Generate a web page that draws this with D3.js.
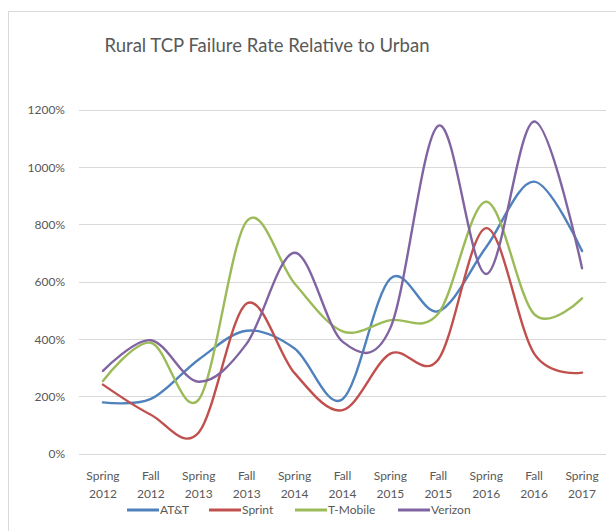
<!doctype html>
<html lang="en">
	<head>
		<meta charset="UTF-8">
		<title>Rural TCP Failure Rate</title>
		<style>
		body { margin: 0; background: #fff; }
		text { font-family: Lato, "Open Sans", sans-serif; fill: #595959; }
		.grid line { stroke: #d9d9d9; stroke-width: 1px; shape-rendering: crispEdges; }
		.line { fill: none; stroke-width: 2.4px; stroke-linecap: round; }
		</style>
	</head>
	<body>
		<script src="https://d3js.org/d3.v7.min.js"></script>
		<script>
			var categories = ["Spring 2012", "Fall 2012", "Spring 2013", "Fall 2013", "Spring 2014", "Fall 2014",
				"Spring 2015", "Fall 2015", "Spring 2016", "Fall 2016", "Spring 2017"];
			var yTicks = [0, 200, 400, 600, 800, 1000, 1200];

			var att     = [180, 192, 330, 430, 368, 191, 612, 498, 722, 950, 708];
			var sprint  = [242, 137, 75, 525, 282, 153, 350, 330, 788, 350, 284];
			var tmobile = [255, 388, 190, 812, 595, 428, 467, 490, 880, 488, 543];
			var verizon = [290, 397, 252, 385, 702, 392, 440, 1145, 628, 1160, 648];

			var seriesNames = ["AT&T", "Sprint", "T-Mobile", "Verizon"];
			var seriesColors = ["#4f81bd", "#c0504d", "#9bbb59", "#8064a2"];
			var seriesValues = [att, sprint, tmobile, verizon];

			var width = 616,
				height = 531,
				plotLeft = 79,
				plotRight = 606,
				plotTop = 110,
				plotBottom = 454;

			var svg = d3.select("body").append("svg")
				.attr("width", width)
				.attr("height", height);

			// chart frame, runs off the right and bottom edges
			svg.append("rect")
				.attr("x", 8.5)
				.attr("y", 11.5)
				.attr("width", 640)
				.attr("height", 560)
				.attr("fill", "none")
				.attr("stroke", "#d9d9d9");

			svg.append("text")
				.attr("x", 267)
				.attr("y", 52)
				.attr("text-anchor", "middle")
				.attr("font-size", 18.5)
				.text("Rural TCP Failure Rate Relative to Urban");

			var x = d3.scaleBand()
				.domain(categories)
				.range([plotLeft, plotRight]);

			var y = d3.scaleLinear()
				.domain([0, 1200])
				.range([plotBottom, plotTop]);

			var cx = function(c){ return x(c) + x.bandwidth() / 2; };

			// gridlines
			svg.append("g")
				.attr("class", "grid")
				.selectAll("line")
				.data(yTicks)
				.enter()
				.append("line")
				.attr("x1", plotLeft)
				.attr("x2", plotRight)
				.attr("y1", function(d){ return y(d); })
				.attr("y2", function(d){ return y(d); });

			// y labels
			svg.selectAll("text.ylab")
				.data(yTicks)
				.enter()
				.append("text")
				.attr("class", "ylab")
				.attr("x", 65)
				.attr("y", function(d){ return y(d); })
				.attr("dy", "0.35em")
				.attr("text-anchor", "end")
				.attr("font-size", 12)
				.text(function(d){ return d + "%"; });

			// x labels, two lines each
			var xl = svg.selectAll("text.xlab")
				.data(categories)
				.enter()
				.append("text")
				.attr("class", "xlab")
				.attr("text-anchor", "middle")
				.attr("font-size", 12);
			xl.append("tspan")
				.attr("x", cx)
				.attr("y", 480)
				.text(function(d){ return d.split(" ")[0]; });
			xl.append("tspan")
				.attr("x", cx)
				.attr("y", 498)
				.text(function(d){ return d.split(" ")[1]; });

			var line = d3.line()
				.x(function(d, i){ return cx(categories[i]); })
				.y(function(d){ return y(d); })
				.curve(d3.curveCatmullRom.alpha(0));

			svg.selectAll("path.line")
				.data(seriesValues)
				.enter()
				.append("path")
				.attr("class", "line")
				.attr("stroke", function(d, i){ return seriesColors[i]; })
				.attr("d", line);

			// legend
			var legendX = [127, 209, 295, 398];
			var lg = svg.selectAll("g.legend")
				.data(seriesNames)
				.enter()
				.append("g")
				.attr("class", "legend")
				.attr("transform", function(d, i){ return "translate(" + legendX[i] + ",510)"; });
			lg.append("line")
				.attr("x1", 0)
				.attr("x2", 32)
				.attr("stroke", function(d, i){ return seriesColors[i]; })
				.attr("stroke-width", 3);
			lg.append("text")
				.attr("x", 33)
				.attr("dy", "0.35em")
				.attr("font-size", 12)
				.text(function(d){ return d; });

		</script>
	</body>
</html>
